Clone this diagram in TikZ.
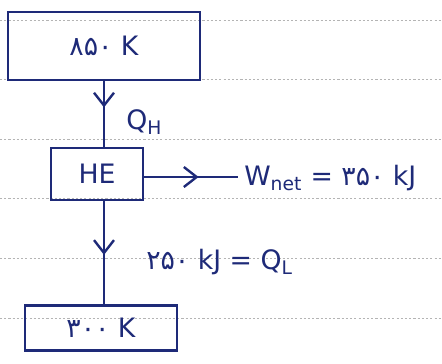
\documentclass[tikz,border=0pt]{standalone}
\usepackage{fontspec}
\setmainfont{DejaVu Sans}
\usepackage{xcolor}
\usetikzlibrary{arrows.meta, calc, decorations.markings}
\definecolor{ink}{HTML}{1E2A78}
\definecolor{ruling}{HTML}{B4B4B4}

\begin{document}
\begin{tikzpicture}[x=0.025cm, y=-0.025cm,
    reservoir/.style={draw=ink, line width=1.7pt, text=ink, inner sep=0pt,
        font=\fontsize{19}{22}\selectfont},
    flow/.style={draw=ink, line width=1.7pt, postaction={decorate},
        decoration={markings, mark=at position #1 with
            {\arrow{Straight Barb[length=3.2mm, width=5mm]}}}},
    lbl/.style={text=ink, anchor=west, inner sep=0pt,
        font=\fontsize{19}{22}\selectfont}]
    % Paper
    \fill[white] (0,0) rectangle (442,363);
    \useasboundingbox (0,0) rectangle (442,363);
    \foreach \y in {20,79,139,198,258,318}
        \draw[ruling, dash pattern=on 1.5pt off 1.5pt, line width=0.6pt] (0,\y) -- (442,\y);

    % Reservoirs and engine
    \node[reservoir, minimum width=4.8cm, minimum height=1.7cm] (hot) at (104,46) {۸۵۰ K};
    \node[reservoir, minimum width=2.3cm, minimum height=1.3cm] (engine) at (97,174) {HE};
    \node[reservoir, minimum width=3.8cm, minimum height=1.12cm] (cold) at (101,328) {۳۰۰ K};

    % Heat flows
    \draw[flow=0.4] (hot.south) -- (hot.south |- engine.north);
    \draw[flow=0.52] (hot.south |- engine.south) -- (hot.south |- cold.north);
    \node[lbl] (qh) at (126,122) {Q\textsubscript{H}};
    \node[lbl] (ql) at (146,262) {۲۵۰ kJ = Q\textsubscript{L}};

    % Work output
    \coordinate (wend) at (238,177);
    \draw[flow=0.58] (engine.east |- wend) -- (wend);
    \node[lbl] (wnet) at (244,178) {W\textsubscript{net} = ۳۵۰ kJ};
\end{tikzpicture}
\end{document}
